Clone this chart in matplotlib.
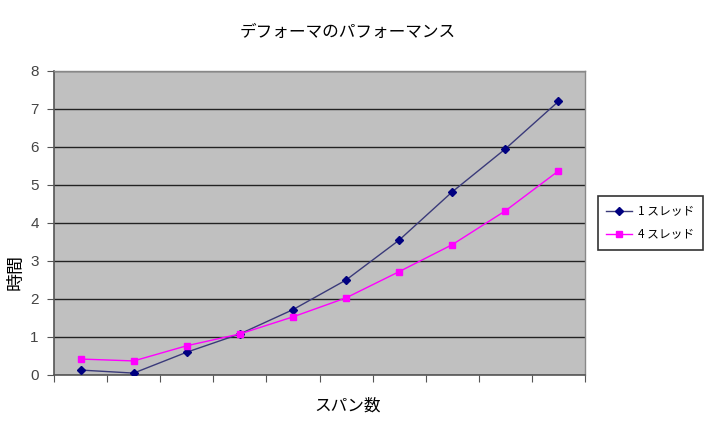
import matplotlib
matplotlib.use("Agg")
import matplotlib.pyplot as plt
import numpy as np

plt.rcParams['font.family'] = ['Noto Sans CJK JP', 'DejaVu Sans']

title = "デフォーマのパフォーマンス"
xlabel = "スパン数"
ylabel = "時間"
series_names = ["1 スレッド", "4 スレッド"]
one_thread = [0.13, 0.05, 0.6, 1.08, 1.72, 2.5, 3.55, 4.82, 5.95, 7.2]
four_thread = [0.42, 0.37, 0.77, 1.08, 1.53, 2.03, 2.72, 3.43, 4.32, 5.37]
yticks = [0, 1, 2, 3, 4, 5, 6, 7, 8]

fig = plt.figure(figsize=(7.06, 4.34), dpi=100)
ax = fig.add_axes([54/706, 59/434, 531/706, 304/434])
ax.set_facecolor('#c0c0c0')

n = len(one_thread)
x = np.arange(n) + 0.5
ax.plot(x, one_thread, color='#3a3a7a', lw=1.0, marker='D', ms=4.5,
        mfc='#000080', mec='#000080', label=series_names[0], zorder=3)
ax.plot(x, four_thread, color='#ff00ff', lw=1.0, marker='s', ms=5,
        mfc='#ff00ff', mec='#ff00ff', label=series_names[1], zorder=3)

ax.set_xlim(0, n)
ax.set_ylim(0, 8)
ax.set_yticks(yticks)
ax.set_yticklabels([str(v) for v in yticks], family=['Liberation Sans'], fontsize=11, color='#444444')
ax.set_xticks(np.arange(0, n + 1))
ax.set_xticklabels([])
ax.tick_params(axis='x', length=5, color='#555555', direction='out')
ax.tick_params(axis='y', length=5, color='#555555', direction='out', pad=6)
ax.yaxis.grid(True, color='#222222', lw=1.0)
ax.set_axisbelow(True)
for s in ['top', 'right']:
    ax.spines[s].set_color('#888888')
    ax.spines[s].set_linewidth(1.0)
for s in ['left', 'bottom']:
    ax.spines[s].set_color('#555555')
    ax.spines[s].set_linewidth(1.2)

fig.text(348/706, 1 - 32/434, title, ha='center', va='center', fontsize=12)
fig.text(348/706, 1 - 406/434, xlabel, ha='center', va='center', fontsize=12)
fig.text(16/706, 1 - 272/434, ylabel, ha='center', va='center', fontsize=13, rotation=90)

leg = fig.legend(loc='center left', bbox_to_anchor=(598/706, 1 - 223/434),
                 frameon=True, fancybox=False, fontsize=8.5, borderpad=0.7,
                 handlelength=2.2, handletextpad=0.5, borderaxespad=0.0,
                 edgecolor='black', labelspacing=0.9)
leg.get_frame().set_linewidth(1.2)

fig.savefig("out.png", dpi=100)
